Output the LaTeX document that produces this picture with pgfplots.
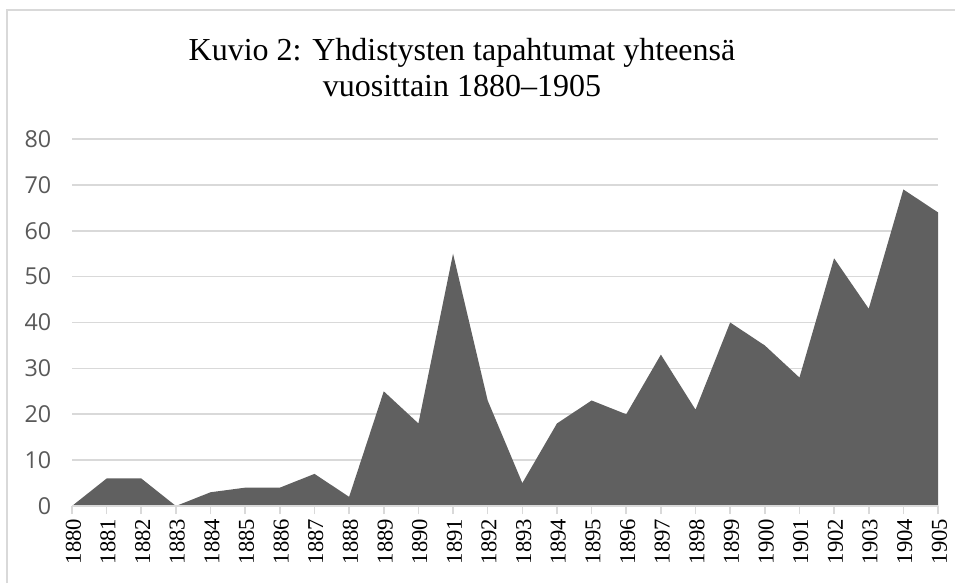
\documentclass[border=0pt]{standalone}
\usepackage{pgfplots}
\pgfplotsset{compat=1.18}
\usepackage{fontspec}
\setmainfont{Liberation Serif}
\newfontfamily\yfont{Open Sans}
\newfontfamily\xfont{Liberation Serif}
\definecolor{fillc}{HTML}{606060}
\definecolor{gridc}{HTML}{D9D9D9}
\definecolor{ytc}{HTML}{595959}
\newcommand{\xl}[1]{\mbox{\xfont\fontsize{17}{17}\selectfont #1}}
\begin{document}
\begin{tikzpicture}
\useasboundingbox (-54pt,-57.75pt) rectangle (662.25pt,379.5pt);
\draw[gridc, line width=1.5pt] (-48.75pt,-57.75pt) -- (-48.75pt,372pt) -- (662.25pt,372pt);
\begin{axis}[
  at={(0,0)}, anchor=south west,
  scale only axis, width=649.5pt, height=275.25pt,
  xmin=0, xmax=25, ymin=0, ymax=80,
  axis line style={draw=none},
  ytick={0,10,...,80},
  xtick={0,...,25},
  xticklabels={\xl{1880},\xl{1881},\xl{1882},\xl{1883},\xl{1884},\xl{1885},\xl{1886},\xl{1887},\xl{1888},\xl{1889},\xl{1890},\xl{1891},\xl{1892},\xl{1893},\xl{1894},\xl{1895},\xl{1896},\xl{1897},\xl{1898},\xl{1899},\xl{1900},\xl{1901},\xl{1902},\xl{1903},\xl{1904},\xl{1905}},
  ymajorgrids, grid style={gridc, line width=1.2pt},
  major x tick style={gridc, line width=1.2pt},
  xtick pos=bottom, xtick align=outside, major tick length=6pt,
  ytick style={draw=none},
  tick label style={font=\xfont\fontsize{17}{17}\selectfont},
  x tick label style={rotate=90, anchor=east, text=black, yshift=-1pt, font=\xfont\fontsize{17}{17}\selectfont},
  y tick label style={anchor=east, text=ytc, xshift=-12pt, font=\yfont\fontsize{17.5}{17.5}\selectfont},
  /pgf/number format/assume math mode=true,
  clip=false,
]
\addplot[fill=fillc, draw=none] coordinates {
(0,0) (1,6) (2,6) (3,0) (4,3) (5,4) (6,4) (7,7) (8,2) (9,25) (10,18) (11,55) (12,23) (13,5) (14,18) (15,23) (16,20) (17,33) (18,21) (19,40) (20,35) (21,28) (22,54) (23,43) (24,69) (25,64)
} \closedcycle;
\draw[gridc, line width=1.2pt] (axis cs:0,0) -- (axis cs:25,0);
\end{axis}
\node[align=center, font=\rmfamily\fontsize{24}{27}\selectfont] at (292.5pt,328.5pt) {Kuvio 2: Yhdistysten tapahtumat yhteensä\\vuosittain 1880–1905};
\end{tikzpicture}
\end{document}
